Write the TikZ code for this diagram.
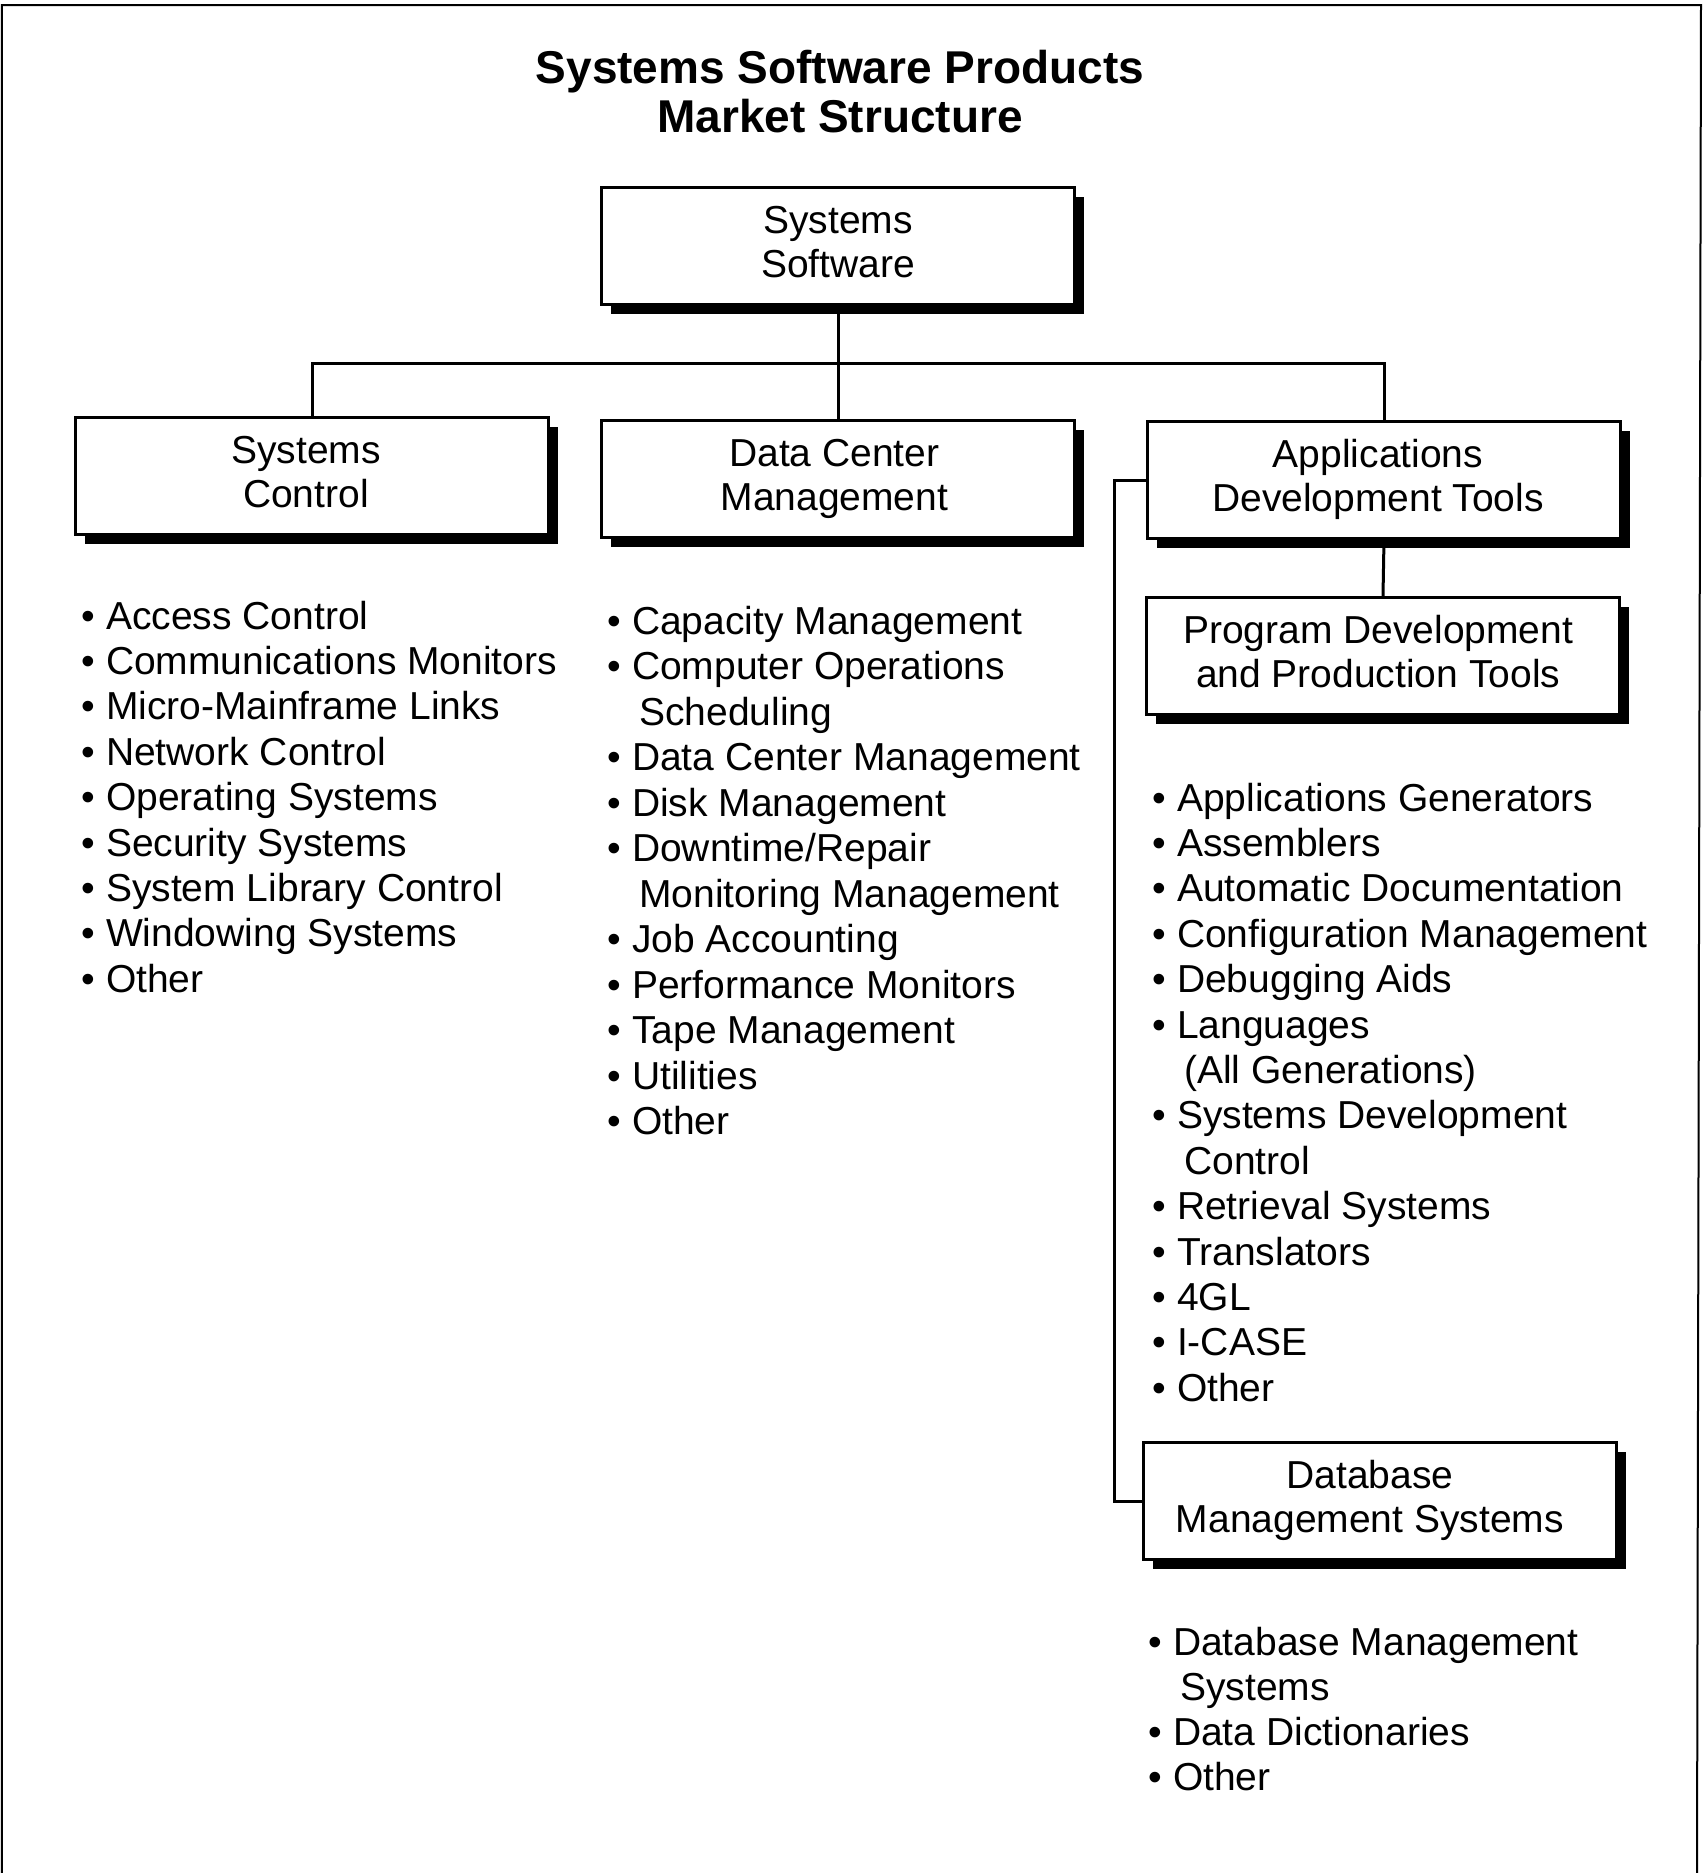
\documentclass[tikz,border=0pt]{standalone}
\usepackage{fontspec}
\setmainfont{Liberation Sans}
\usepackage{tikz}
\usetikzlibrary{shadows}

\newcommand{\boxfont}{\fontsize{11.7}{13.2}\selectfont}
\newcommand{\itemfont}{\fontsize{11.7}{13.6}\selectfont}
\newcommand{\titlefont}{\fontsize{13.8}{14.7}\selectfont\bfseries}
\newcommand{\bul}{•\ }
\newcommand{\cont}{\hspace*{9.5pt}}
\newcommand{\boxtxt}[2]{\begin{tabular}[t]{@{}c@{\hspace{#1}}}#2\end{tabular}}

\tikzset{
  catbox/.style={draw, line width=0.9pt, fill=white, minimum width=141.9pt,
    minimum height=35pt, font=\boxfont, inner sep=2pt,
    text height=9pt, text depth=16.8pt,
    drop shadow={shadow xshift=2.7pt, shadow yshift=-2.9pt, opacity=1, fill=black}},
  entry/.style={anchor=base west, inner sep=0pt, font=\itemfont},
  link/.style={line width=0.9pt}
}

\begin{document}
\begin{tikzpicture}[x=0.3pt,y=-0.3pt]
 \useasboundingbox (0,0) rectangle (1708,1873);
 \draw[line width=0.6pt] (2,1873) -- (2,5) -- (1701,5) -- (1697,1873);

 \node[align=center, font=\titlefont] (title) at (840,92) {Systems Software Products\\Market Structure};

 \node[catbox] (sw) at (838,246) {\boxtxt{0pt}{Systems\\Software}};
 \node[catbox] (sc) at (312,476) {\boxtxt{3.6pt}{Systems\\Control}};
 \node[catbox] (dc) at (838,479) {\boxtxt{2.2pt}{Data Center\\Management}};
 \node[catbox] (ap) at (1384,480) {\boxtxt{3.6pt}{Applications\\Development Tools}};
 \node[catbox] (pd) at (1383,656) {\boxtxt{2.9pt}{Program Development\\and Production Tools}};
 \node[catbox] (db) at (1380,1501) {\boxtxt{6.1pt}{Database\\Management Systems}};

 \coordinate (bar) at (838,363);
 \coordinate (brk) at (1114,480);
 \draw[link] (sw.south) -- (dc.north);
 \draw[link] (sc.north) |- (bar) -| (ap.north);
 \draw[link] (ap.south) -- (pd.north);
 \draw[link] (ap.west) -- (brk) |- (db.west);

 \foreach \txt [count=\i] in {\bul Access Control, \bul Communications Monitors,
   \bul Micro-Mainframe Links, \bul Network Control, \bul Operating Systems,
   \bul Security Systems, \bul System Library Control, \bul Windowing Systems,
   \bul Other}
   \node[entry] (sc-\i) at (81,{629+45.4*(\i-1)}) {\txt};

 \foreach \txt [count=\i] in {\bul Capacity Management, \bul Computer Operations,
   \cont Scheduling, \bul Data Center Management, \bul Disk Management,
   \bul Downtime/Repair, \cont Monitoring Management, \bul Job Accounting,
   \bul Performance Monitors, \bul Tape Management, \bul Utilities, \bul Other}
   \node[entry] (dc-\i) at (607,{634+45.5*(\i-1)}) {\txt};

 \foreach \txt [count=\i] in {\bul Applications Generators, \bul Assemblers,
   \bul Automatic Documentation, \bul Configuration Management,
   \bul Debugging Aids, \bul Languages, \cont (All Generations),
   \bul Systems Development, \cont Control, \bul Retrieval Systems,
   \bul Translators, \bul 4GL, \bul I-CASE, \bul Other}
   \node[entry] (pd-\i) at (1152,{811+45.4*(\i-1)}) {\txt};

 \foreach \txt [count=\i] in {\bul Database Management, \cont Systems,
   \bul Data Dictionaries, \bul Other}
   \node[entry] (db-\i) at (1148,{1655+45*(\i-1)}) {\txt};
\end{tikzpicture}
\end{document}
